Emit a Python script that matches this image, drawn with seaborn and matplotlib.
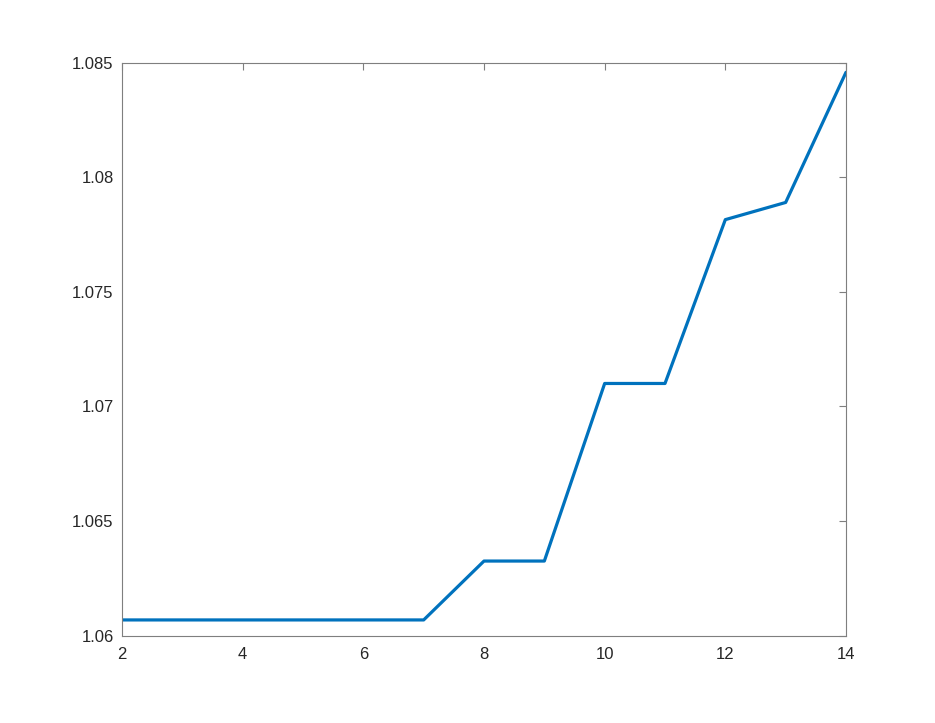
"""MATLAB-style single line plot recreated with seaborn."""

import matplotlib
matplotlib.use("Agg")
import matplotlib.pyplot as plt
import numpy as np
import pandas as pd
import seaborn as sns

# ── Data ─────────────────────────────────────────────────────────────────────
x_values = [2, 3, 4, 5, 6, 7, 8, 9, 10, 11, 12, 13, 14]
y_values = [1.06068, 1.06068, 1.06068, 1.06068, 1.06068, 1.06068,
            1.06325, 1.06325, 1.07100, 1.07100, 1.07815, 1.07890, 1.08458]
x_ticks = [2, 4, 6, 8, 10, 12, 14]
y_ticks = [1.06, 1.065, 1.07, 1.075, 1.08, 1.085]
y_tick_labels = ["1.06", "1.065", "1.07", "1.075", "1.08", "1.085"]

LINE_COLOR = "#0072BD"
AXIS_COLOR = "#262626"

sns.set_style("white")
plt.rcParams["font.family"] = ["Liberation Sans", "DejaVu Sans"]

df = pd.DataFrame({"x": x_values, "y": y_values})

fig = plt.figure(figsize=(9.35, 7.23), dpi=100)
ax = fig.add_axes([0.1305, 0.121, 0.7743, 0.7923])

sns.lineplot(data=df, x="x", y="y", ax=ax, color=LINE_COLOR, linewidth=2.3)

ax.set_xlim(2, 14)
ax.set_ylim(1.06, 1.085)
ax.set_xticks(x_ticks)
ax.set_yticks(y_ticks)
ax.set_yticklabels(y_tick_labels)
ax.set_xlabel("")
ax.set_ylabel("")

for spine in ax.spines.values():
    spine.set_visible(True)
    spine.set_color("#7f7f7f")
    spine.set_linewidth(0.8)

ax.tick_params(direction="in", length=5, width=0.8, color="#7f7f7f",
               top=True, right=True, labelsize=12, labelcolor=AXIS_COLOR)
ax.tick_params(axis="x", pad=8)
ax.tick_params(axis="y", pad=6)

fig.savefig("out.png", dpi=100)
